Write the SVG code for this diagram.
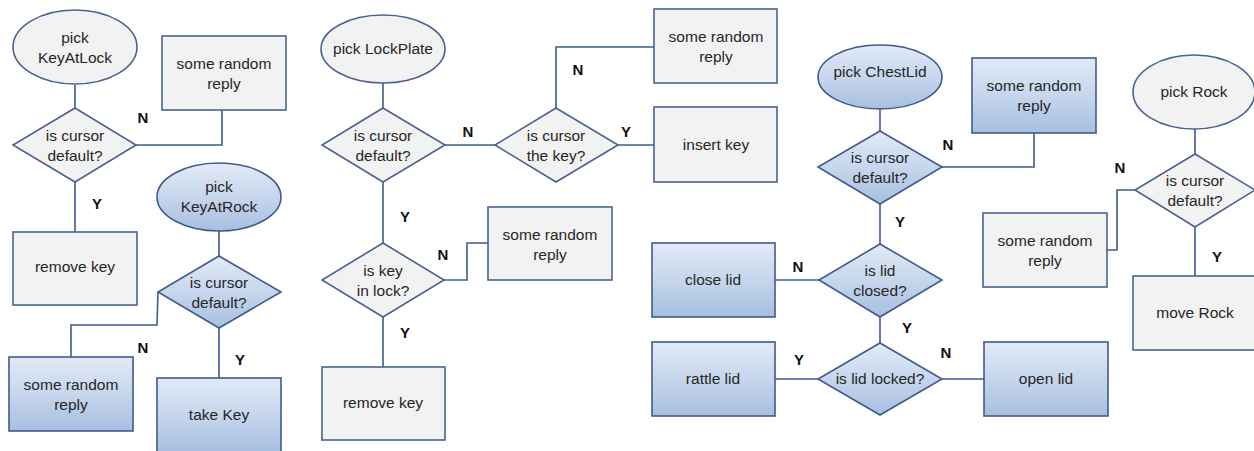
<svg xmlns="http://www.w3.org/2000/svg" width="1254" height="451" viewBox="0 0 1254 451">
<defs>
<linearGradient id="bg" x1="0" y1="0" x2="0" y2="1">
<stop offset="0" stop-color="#e2eaf6"/>
<stop offset="0.5" stop-color="#c6d6ec"/>
<stop offset="1" stop-color="#a7bfe0"/>
</linearGradient>
<style>
.g{fill:#f2f2f2;stroke:#4a6290;stroke-width:1.6}
.b{fill:url(#bg);stroke:#3f5b8c;stroke-width:1.6}
.t{font-family:"Liberation Sans",Arial,sans-serif;font-size:15.5px;fill:#262626;text-anchor:middle}
.l{font-family:"Liberation Sans",Arial,sans-serif;font-size:15px;font-weight:bold;fill:#111;text-anchor:middle}
.c{fill:none;stroke:#3f5b8c;stroke-width:1.6}
</style>
</defs>
<rect width="1254" height="451" fill="#ffffff"/>
<g id="connectors">
<path class="c" d="M75,85V108"/>
<path class="c" d="M136,145H222V110"/>
<path class="c" d="M75,182V232"/>
<path class="c" d="M219,231V256"/>
<path class="c" d="M158,292L157,325H71V357"/>
<path class="c" d="M219,328V378"/>
<path class="c" d="M383,83V108"/>
<path class="c" d="M445,145H495"/>
<path class="c" d="M556,108V47H654"/>
<path class="c" d="M618,145H654"/>
<path class="c" d="M383,182V243"/>
<path class="c" d="M444,280H467V243H488"/>
<path class="c" d="M383,317V367"/>
<path class="c" d="M880,108V131"/>
<path class="c" d="M942,167H1034V133"/>
<path class="c" d="M880,204V244"/>
<path class="c" d="M819,280H775"/>
<path class="c" d="M880,317V343"/>
<path class="c" d="M818,379H775"/>
<path class="c" d="M942,379H984"/>
<path class="c" d="M1195,128V154"/>
<path class="c" d="M1135,190H1117V250H1107"/>
<path class="c" d="M1195,227V276"/>
</g>
<g id="labels">
<text class="l" x="143" y="123">N</text>
<text class="l" x="97" y="209">Y</text>
<text class="l" x="143" y="353">N</text>
<text class="l" x="240" y="365">Y</text>
<text class="l" x="468" y="137">N</text>
<text class="l" x="578" y="75">N</text>
<text class="l" x="626" y="137">Y</text>
<text class="l" x="405" y="222">Y</text>
<text class="l" x="443" y="260">N</text>
<text class="l" x="405" y="338">Y</text>
<text class="l" x="948" y="150">N</text>
<text class="l" x="900" y="227">Y</text>
<text class="l" x="798" y="272">N</text>
<text class="l" x="907" y="333">Y</text>
<text class="l" x="799" y="365">Y</text>
<text class="l" x="946" y="358">N</text>
<text class="l" x="1120" y="173">N</text>
<text class="l" x="1217" y="262">Y</text>
</g>
<g id="pickKeyAtLock"><ellipse class="g" cx="75" cy="47" rx="62" ry="37"/><text class="t" x="75" y="43">pick</text><text class="t" x="75" y="63">KeyAtLock</text></g>
<g id="reply1"><rect class="g" x="162" y="36" width="124" height="74"/><text class="t" x="224" y="69">some random</text><text class="t" x="224" y="89">reply</text></g>
<g id="dec1"><polygon class="g" points="75,108 136,145 75,182 13,145"/><text class="t" x="75" y="141">is cursor</text><text class="t" x="75" y="161">default?</text></g>
<g id="removeKey1"><rect class="g" x="13" y="232" width="124" height="73"/><text class="t" x="75" y="272">remove key</text></g>
<g id="pickKeyAtRock"><ellipse class="b" cx="219" cy="197" rx="62" ry="34"/><text class="t" x="219" y="192">pick</text><text class="t" x="219" y="212">KeyAtRock</text></g>
<g id="dec2"><polygon class="b" points="219,256 281,292 219,328 158,292"/><text class="t" x="219" y="288">is cursor</text><text class="t" x="219" y="308">default?</text></g>
<g id="reply2"><rect class="b" x="9" y="357" width="124" height="74"/><text class="t" x="71" y="390">some random</text><text class="t" x="71" y="410">reply</text></g>
<g id="takeKey"><rect class="b" x="157" y="378" width="124" height="74"/><text class="t" x="219" y="420">take Key</text></g>
<g id="pickLockPlate"><ellipse class="g" cx="383" cy="49" rx="62" ry="34"/><text class="t" x="383" y="54">pick LockPlate</text></g>
<g id="dec3"><polygon class="g" points="383,108 445,145 383,182 322,145"/><text class="t" x="383" y="141">is cursor</text><text class="t" x="383" y="161">default?</text></g>
<g id="dec4"><polygon class="g" points="556,108 618,145 556,182 495,145"/><text class="t" x="556" y="141">is cursor</text><text class="t" x="556" y="161">the key?</text></g>
<g id="reply3"><rect class="g" x="654" y="9" width="123" height="74"/><text class="t" x="716" y="42">some random</text><text class="t" x="716" y="62">reply</text></g>
<g id="insertKey"><rect class="g" x="654" y="107" width="123" height="75"/><text class="t" x="716" y="150">insert key</text></g>
<g id="dec5"><polygon class="g" points="383,243 444,280 383,317 322,280"/><text class="t" x="383" y="276">is key</text><text class="t" x="383" y="296">in lock?</text></g>
<g id="reply4"><rect class="g" x="488" y="207" width="124" height="73"/><text class="t" x="550" y="240">some random</text><text class="t" x="550" y="260">reply</text></g>
<g id="removeKey2"><rect class="g" x="322" y="367" width="123" height="73"/><text class="t" x="383" y="408">remove key</text></g>
<g id="pickChestLid"><ellipse class="b" cx="880" cy="77" rx="62" ry="32"/><text class="t" x="880" y="77">pick ChestLid</text></g>
<g id="dec6"><polygon class="b" points="880,131 942,167 880,204 818,167"/><text class="t" x="880" y="163">is cursor</text><text class="t" x="880" y="183">default?</text></g>
<g id="reply5"><rect class="b" x="972" y="58" width="124" height="75"/><text class="t" x="1034" y="91">some random</text><text class="t" x="1034" y="111">reply</text></g>
<g id="closeLid"><rect class="b" x="652" y="243" width="123" height="74"/><text class="t" x="713" y="285">close lid</text></g>
<g id="dec7"><polygon class="b" points="880,244 942,280 880,317 819,280"/><text class="t" x="880" y="276">is lid</text><text class="t" x="880" y="296">closed?</text></g>
<g id="rattleLid"><rect class="b" x="652" y="342" width="123" height="74"/><text class="t" x="713" y="384">rattle lid</text></g>
<g id="dec8"><polygon class="b" points="880,343 942,379 880,415 818,379"/><text class="t" x="880" y="384">is lid locked?</text></g>
<g id="openLid"><rect class="b" x="984" y="342" width="124" height="74"/><text class="t" x="1046" y="384">open lid</text></g>
<g id="pickRock"><ellipse class="g" cx="1194" cy="92" rx="61" ry="37"/><text class="t" x="1194" y="97">pick Rock</text></g>
<g id="dec9"><polygon class="g" points="1195,154 1255,190 1195,227 1135,190"/><text class="t" x="1195" y="186">is cursor</text><text class="t" x="1195" y="206">default?</text></g>
<g id="reply6"><rect class="g" x="983" y="213" width="124" height="74"/><text class="t" x="1045" y="246">some random</text><text class="t" x="1045" y="266">reply</text></g>
<g id="moveRock"><rect class="g" x="1133" y="276" width="124" height="74"/><text class="t" x="1195" y="318">move Rock</text></g>
</svg>
